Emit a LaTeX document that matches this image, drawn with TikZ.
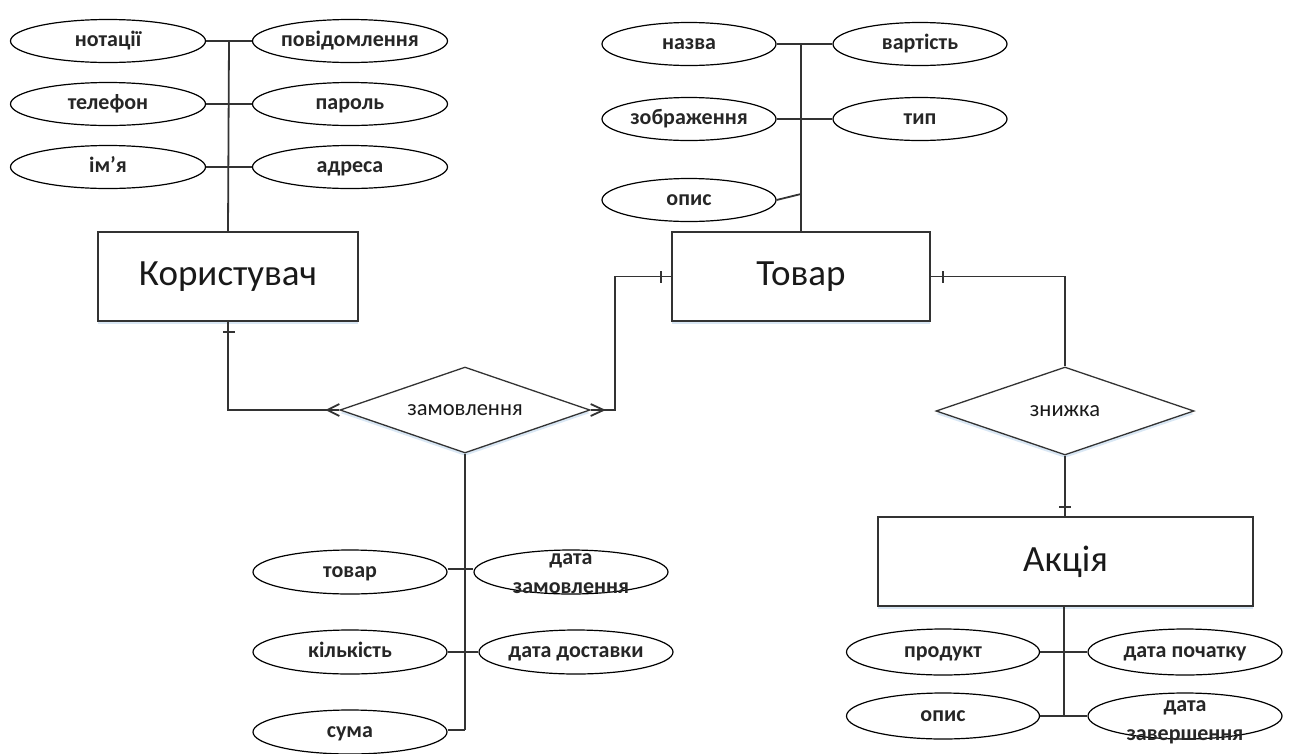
\documentclass[tikz,border=0pt]{standalone}
\usepackage{fontspec}
\setmainfont{Carlito}
\usetikzlibrary{shapes.geometric,shadows}
\definecolor{ln}{HTML}{333333}
\definecolor{shd}{HTML}{C9DDF0}
\begin{document}
\begin{tikzpicture}[x=1pt,y=-1pt,
  attr/.style={draw=black, ellipse, line width=1.2pt, inner sep=0pt,
    minimum width=195pt, minimum height=43pt, text=black!85,
    text height=13.6pt, text depth=3.3pt,
    font=\fontsize{22}{24}\selectfont\bfseries},
  attrs/.style={attr, minimum width=174pt},
  lbl/.style={align=center, text=black!85, inner sep=0pt,
    font=\fontsize{22}{29}\selectfont\bfseries},
  entity/.style={draw=ln, rectangle, line width=1.4pt, fill=white, text=black!90,
    font=\fontsize{37}{40}\selectfont,
    drop shadow={shadow xshift=0pt, shadow yshift=-3pt, fill=shd, opacity=0.7}},
  rel/.style={draw=ln, diamond, line width=1.3pt, fill=white, aspect=2.9, inner sep=0pt,
    text=black!90, font=\fontsize{22.5}{24}\selectfont,
    drop shadow={shadow xshift=0pt, shadow yshift=-3pt, fill=shd, opacity=0.7}},
  conn/.style={draw=ln, line width=1.8pt},
  thick conn/.style={draw=ln, line width=2.6pt}
]
\useasboundingbox (0,0) rectangle (1291,753);

% ---------- entities ----------
\node[entity, minimum width=260pt, minimum height=89pt] (user) at (228,276.5) {Користувач};
\node[entity, minimum width=258pt, minimum height=89pt] (prod) at (801,276.5) {Товар};
\node[entity, minimum width=375pt, minimum height=89pt] (promo) at (1065.5,561.5) {Акція};

% ---------- relationships ----------
\node[rel, minimum width=250pt, minimum height=86pt] (order) at (465,410) {замовлення};
\node[rel, minimum width=258pt, minimum height=88pt] (disc) at (1065,411) {знижка};

% ---------- attributes of Користувач ----------
\node[attr] (not) at (108,41) {нотації};
\node[attr] (pov) at (350,41) {повідомлення};
\node[attr] (tel) at (108,104) {телефон};
\node[attr] (par) at (350,104) {пароль};
\node[attr] (imya) at (108,167) {ім’я};
\node[attr] (adr) at (350,167) {адреса};

\coordinate (ut) at (229,41);
\draw[conn] (ut) -- (user.north);
\draw[conn] (not.east) -- (ut);
\draw[thick conn] (ut) -- (pov.west);
\draw[conn] (tel.east) -- (par.west);
\draw[conn] (imya.east) -- (229,167);
\draw[thick conn] (229,167) -- (adr.west);

% ---------- attributes of Товар ----------
\node[attrs] (nazva) at (689,44) {назва};
\node[attrs] (vart) at (920,44) {вартість};
\node[attrs] (zobr) at (689,119) {зображення};
\node[attrs] (typ) at (920,119) {тип};
\node[attrs] (opys) at (689,200) {опис};

\coordinate (pt) at (801,44);
\draw[conn] (pt) -- (prod.north);
\draw[thick conn] (nazva.east) -- (pt);
\draw[conn] (pt) -- (vart.west);
\draw[conn] (zobr.east) -- (typ.west);
\coordinate (pop) at (801,194);
\draw[conn] (opys.east) -- (pop);

% ---------- attributes of замовлення ----------
\node[attr, minimum width=194pt, minimum height=44pt] (tov) at (350,572) {товар};
\node[attr, minimum width=194pt, minimum height=44pt] (dz) at (571,572) {};
\node[lbl] at (571,574) {дата\\замовлення};
\node[attr, minimum width=194pt, minimum height=44pt] (kil) at (350,652) {кількість};
\node[attr, minimum width=194pt, minimum height=44pt] (dd) at (576,652) {дата доставки};
\node[attr, minimum width=194pt, minimum height=44pt] (suma) at (350,732) {сума};

\coordinate (ob) at (465,730);
\draw[conn] (order.south) -- (ob);
\draw[conn] (tov.east |- 0,569) -- (dz.west |- 0,569);
\draw[conn] (kil.east) -- (dd.west);
\draw[conn] (suma.east |- ob) -- (ob);

% ---------- attributes of Акція ----------
\node[attr, minimum width=193pt, minimum height=46pt] (prd) at (943,652) {продукт};
\node[attr, minimum width=194pt, minimum height=46pt] (dp) at (1185,652) {дата початку};
\node[attr, minimum width=193pt, minimum height=46pt] (opys2) at (943,716) {опис};
\node[attr, minimum width=194pt, minimum height=46pt] (dzav) at (1185,716) {};
\node[lbl] at (1185,722) {дата\\завершення};

\coordinate (ab) at (1064,716);
\draw[conn] (promo.south -| ab) -- (ab);
\draw[conn] (prd.east) -- (dp.west);
\draw[thick conn] (opys2.east) -- (ab);
\draw[conn] (ab) -- (dzav.west);

% ---------- relationship connectors ----------
% Користувач -- замовлення
\draw[conn] (user.south) |- (order.west);
\draw[conn] (223,332) -- (235,332);
\draw[conn] (order.west) ++(-12,0) -- ++(12,-6);
\draw[conn] (order.west) ++(-12,0) -- ++(12,6);
% замовлення -- Товар
\coordinate (oe) at (615,410);
\draw[conn] (order.east) -- (oe) |- (prod.west);
\draw[conn] (661,271) -- (661,283);
\draw[conn] (order.east) ++(13,0) -- ++(-13,-6);
\draw[conn] (order.east) ++(13,0) -- ++(-13,6);
% Товар -- знижка
\draw[conn] (prod.east) -| (disc.north);
\draw[conn] (943,271) -- (943,283);
% знижка -- Акція
\draw[conn] (disc.south) -- (disc.south |- promo.north);
\draw[conn] (1059,507) -- (1071,507);

\end{tikzpicture}
\end{document}
